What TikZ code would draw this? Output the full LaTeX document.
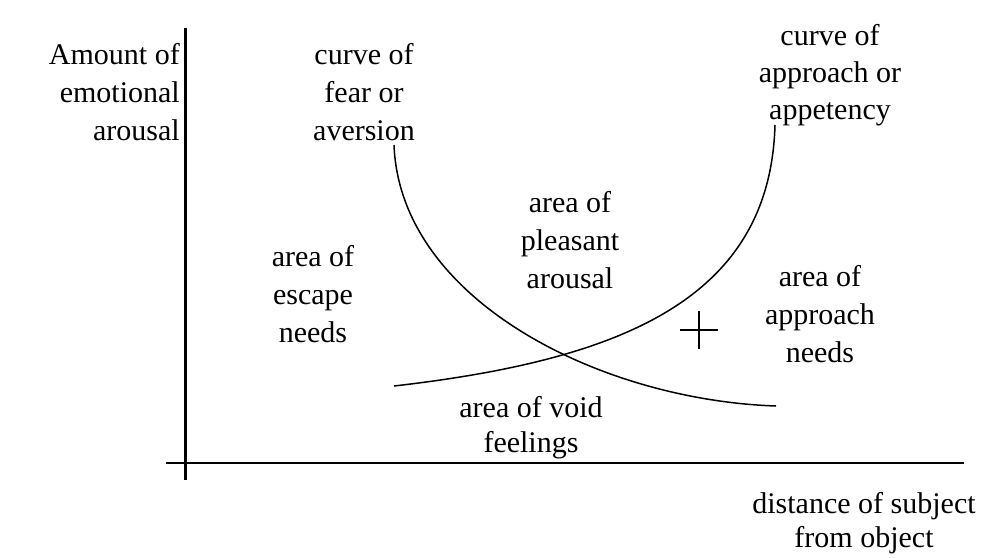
\documentclass[tikz,border=0pt]{standalone}
\usepackage{fontspec}
\setmainfont{Liberation Serif}

\begin{document}
\begin{tikzpicture}[x=1pt, y=-1pt, line join=round,
  axis/.style={line width=2.2pt},
  crv/.style={line width=1.5pt},
  lbl/.style={inner sep=0pt, anchor=base, align=center,
    font=\fontsize{30}{38}\selectfont}]

  %% ════ canvas ════
  \fill[white] (0,0) rectangle (987,557);

  %% ════ axes ════
  \coordinate (yTop)   at (185.5,28);
  \coordinate (yBot)   at (185.5,480);
  \coordinate (xLeft)  at (166,463);
  \coordinate (xRight) at (964,463);
  \draw[axis] (yTop) -- (yBot);
  \draw[axis] (xLeft) -- (xRight);

  %% ════ curves ════
  % fear / aversion
  \draw[crv] (394,145) .. controls (400,300) and (600,400) .. (776,406);
  % approach / appetency
  \draw[crv] (394,386) .. controls (620,360) and (770,300) .. (775,125);

  %% ════ cross mark ════
  \draw[crv] (680,330) -- (718,330);
  \draw[crv] (699,311) -- (699,349);

  %% ════ labels (base = last line) ════
  \node[lbl, anchor=base east, align=right] (amount) at (180,140)
    {Amount of\\emotional\\arousal};
  \node[lbl] (fear) at (364,140) {curve of\\fear or\\aversion};
  \node[lbl, font=\fontsize{30}{37}\selectfont] (appetency) at (830,119)
    {curve of\\approach or\\appetency};
  \node[lbl] (escape) at (313,342) {area of\\escape\\needs};
  \node[lbl] (pleasant) at (570,288) {area of\\pleasant\\arousal};
  \node[lbl] (apprNeeds) at (820,362) {area of\\approach\\needs};
  \node[lbl, font=\fontsize{30}{35}\selectfont] (void) at (531,452)
    {area of void\\feelings};
  \node[lbl, font=\fontsize{30}{34}\selectfont] (distance) at (864,547)
    {distance of subject\\from object};

  % fix the canvas
  \pgfresetboundingbox
  \path[use as bounding box] (0,0) rectangle (987,557);
\end{tikzpicture}
\end{document}
